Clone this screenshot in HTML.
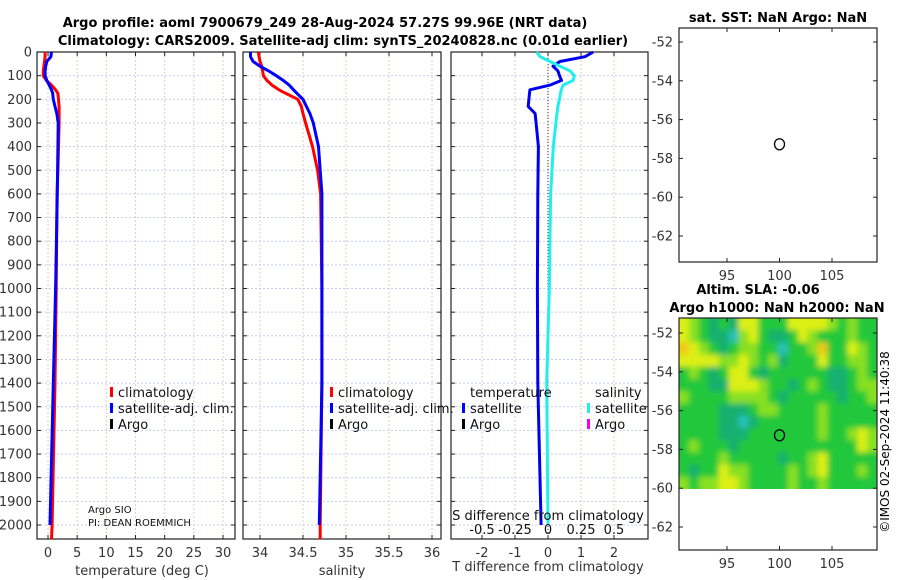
<!DOCTYPE html>
<html><head><meta charset="utf-8"><style>
body{margin:0;background:#fff}
svg{display:block;font-family:"DejaVu Sans","Liberation Sans",sans-serif}
</style></head><body>
<svg id="fig" width="900" height="580" viewBox="0 0 900 580">
<defs>
<clipPath id="slaClip"><rect x="679" y="318" width="198" height="171"/></clipPath>
<filter id="blur" x="-5%" y="-5%" width="110%" height="110%"><feGaussianBlur stdDeviation="3"/></filter>
</defs>
<g id="titles" font-weight="bold" font-size="13" text-anchor="middle" fill="#000">
<text x="325" y="27">Argo profile: aoml 7900679_249 28-Aug-2024 57.27S 99.96E (NRT data)</text>
<text x="343" y="45">Climatology: CARS2009. Satellite-adj clim: synTS_20240828.nc (0.01d earlier)</text>
<text x="778" y="22">sat. SST: NaN Argo: NaN</text>
<text x="758" y="294">Altim. SLA: -0.06</text>
<text x="777" y="312">Argo h1000: NaN h2000: NaN</text>
</g>
<g id="p1"></g>
<g id="p2"></g>
<g id="p3"></g>
<g id="m1"></g>
<g id="m2"></g>
<text transform="translate(889,442) rotate(-90)" text-anchor="middle" font-size="12">©IMOS 02-Sep-2024 11:40:38</text>
</svg>
<script>
const depths=[0,20,40,60,80,100,120,140,160,175,200,230,260,300,400,500,600,1000,1400,2000,2060];
const tempClim=[-0.5,-0.5,-0.6,-0.7,-0.8,-0.8,-0.3,0.6,1.3,1.7,1.8,1.9,1.9,1.9,1.8,1.7,1.55,1.4,1.2,0.7,0.6];
const tempSat=[0.6,0.5,-0.2,-0.4,-0.5,-0.5,-0.2,0.2,0.6,0.8,0.9,1.2,1.5,1.75,1.7,1.65,1.6,1.3,0.9,0.35,null];
const salClim=[33.98,33.99,34.0,34.02,34.03,34.04,34.08,34.14,34.22,34.3,34.44,34.48,34.5,34.53,34.61,34.67,34.705,34.72,34.72,34.7,34.7];
const salSat=[33.89,33.89,33.92,34.0,34.1,34.19,34.27,34.34,34.39,34.43,34.5,34.54,34.58,34.62,34.68,34.7,34.72,34.72,34.72,34.69,null];
const tDiffSat=[1.37,1.12,0.36,0.15,0.3,0.35,0.41,0.06,-0.55,-0.56,-0.58,-0.6,-0.39,-0.36,-0.29,-0.3,-0.31,-0.32,-0.31,-0.21,null];
const sDiffSat=[-0.086,-0.06,0.015,0.09,0.167,0.2,0.19,0.115,0.1,0.095,0.086,0.075,0.068,0.06,0.04,0.03,0.02,0.01,-0.01,0,null];
const depthTicks=[0,100,200,300,400,500,600,700,800,900,1000,1100,1200,1300,1400,1500,1600,1700,1800,1900,2000];
const tempTicks=[0,5,10,15,20,25,30];
const salTicks=[34,34.5,35,35.5,36];
const tdTicks=[-2,-1,0,1,2];
const sdTicks=[-0.5,-0.25,0,0.25,0.5];
const lonTicks=[95,100,105];
const latTicks=[-52,-54,-56,-58,-60,-62];
const argoLon=[100];
const argoLat=[-57.27];
const slaGrid=[
[4,3,2,1,2,1,4,4,2,2,2,4,4,4,4,3,2,3,2,2],
[4,3,2,1,1,0,3,4,2,1,1,2,4,3,2,2,2,3,2,2],
[5,4,3,2,1,2,3,3,2,2,0,2,2,3,5,2,2,4,3,2],
[4,4,4,4,3,3,4,3,2,3,1,2,2,2,4,2,2,3,3,2],
[2,3,2,1,2,4,4,2,1,2,2,2,2,2,2,1,1,2,3,2],
[2,2,2,1,1,4,4,4,3,2,2,1,2,3,2,1,1,2,3,3],
[3,2,2,2,2,3,3,3,3,2,1,2,2,2,2,2,1,2,2,3],
[2,2,2,2,1,1,1,2,3,3,2,2,2,2,3,2,2,2,2,2],
[2,2,2,2,1,1,0,1,2,2,2,2,2,2,3,2,2,2,2,2],
[2,2,2,2,1,1,1,2,2,2,2,2,2,2,3,2,2,3,4,3],
[2,3,2,2,2,1,2,2,2,2,2,2,2,2,2,2,2,2,4,3],
[2,2,2,2,3,2,2,2,2,2,1,2,2,3,4,2,2,2,2,2],
[2,1,2,2,4,3,3,2,2,2,2,3,2,3,4,2,2,2,3,2],
[3,2,3,3,4,4,3,2,2,2,2,3,2,2,3,2,2,2,2,2]];
const NS="http://www.w3.org/2000/svg";
function mk(parent,tag,attrs){const e=document.createElementNS(NS,tag);for(const k in attrs)e.setAttribute(k,attrs[k]);parent.appendChild(e);return e;}
const yD=d=>52+d*0.2365;
function lin(v0,p0,v1,p1){return v=>p0+(v-v0)*(p1-p0)/(v1-v0);}
function pathOf(xs,xf){let s="";xs.forEach((v,i)=>{if(v===null)return;s+=(s?"L":"M")+xf(v).toFixed(1)+","+yD(depths[i]).toFixed(1);});return s;}
function panel(g,x0,x1,xTicks,xf,xLabels,showY){
  const y0=52,y1=539;
  depthTicks.forEach(d=>{const l=mk(g,"line",{x1:x0,x2:x1,y1:yD(d),y2:yD(d),stroke:"#c4ccf0","stroke-width":1,"stroke-dasharray":"2,2"});});
  xTicks.forEach(v=>{const l=mk(g,"line",{x1:xf(v),x2:xf(v),y1:y0,y2:y1,stroke:"#eec8b8","stroke-width":1,"stroke-dasharray":"2,2"});});
  const r=mk(g,"rect",{x:x0,y:y0,width:x1-x0,height:y1-y0,fill:"none",stroke:"#222","stroke-width":1.2});
  
  depthTicks.forEach(d=>{mk(g,"line",{x1:x0,x2:x0+4,y1:yD(d),y2:yD(d),stroke:"#222"});mk(g,"line",{x1:x1-4,x2:x1,y1:yD(d),y2:yD(d),stroke:"#222"});
    if(showY){const t=mk(g,"text",{x:x0-5,y:yD(d)+4.5,"text-anchor":"end","font-size":13,fill:"#333"});t.textContent=d;}});
  xTicks.forEach((v,i)=>{mk(g,"line",{x1:xf(v),x2:xf(v),y1:y1-4,y2:y1,stroke:"#222"});mk(g,"line",{x1:xf(v),x2:xf(v),y1:y0,y2:y0+4,stroke:"#222"});
    if(xLabels){const t=mk(g,"text",{x:xf(v),y:557,"text-anchor":"middle","font-size":13,fill:"#333"});t.textContent=xLabels[i];}});
}
function line(g,d,color,name,w){const p=mk(g,"path",{d:d,fill:"none",stroke:color,"stroke-width":w||3,"stroke-linejoin":"round"});}
function txt(g,x,y,s,name,opts){const t=mk(g,"text",Object.assign({x:x,y:y,"font-size":13,fill:"#111"},opts||{}));t.textContent=s;return t;}
function legItem(g,x,y,color,label){const r=mk(g,"rect",{x:x,y:y-10,width:3,height:10,fill:color});txt(g,x+8,y,label,'legend-entry');}
// panel 1
const p1=document.getElementById("p1");const xT=lin(0,48,30,223);
panel(p1,37,235,tempTicks,xT,tempTicks,true);
line(p1,pathOf(tempClim,xT),"#ff0000","temp-climatology-line");
line(p1,pathOf(tempSat,xT),"#0000ff","temp-satellite-line");
txt(p1,142,575,"temperature (deg C)","x-axis-title",{"text-anchor":"middle",fill:"#333"});
legItem(p1,110,397,"#ff0000","climatology");legItem(p1,110,413,"#0000ff","satellite-adj. clim.");legItem(p1,110,429,"#000","Argo");
txt(p1,88,513,"Argo SIO","argo-source-note",{"font-size":10});
txt(p1,88,526,"PI: DEAN ROEMMICH","pi-note",{"font-size":10});
// panel 2
const p2=document.getElementById("p2");const xS=lin(34,260,36,432);
panel(p2,243,441,salTicks,xS,salTicks,false);
line(p2,pathOf(salClim,xS),"#ff0000","sal-climatology-line");
line(p2,pathOf(salSat,xS),"#0000ff","sal-satellite-line");
txt(p2,342,575,"salinity","x-axis-title",{"text-anchor":"middle",fill:"#333"});
legItem(p2,330,397,"#ff0000","climatology");legItem(p2,330,413,"#0000ff","satellite-adj. clim.");legItem(p2,330,429,"#000","Argo");
// panel 3
const p3=document.getElementById("p3");const xTD=lin(0,548,2,614);const xSD=lin(0,548,0.5,614);
panel(p3,451,648,tdTicks,xTD,tdTicks,false);
const z=mk(p3,"line",{x1:xTD(0),x2:xTD(0),y1:52,y2:539,stroke:"#333","stroke-dasharray":"1,2"});
line(p3,pathOf(tDiffSat,xTD),"#0000ee","t-difference-line");
line(p3,pathOf(sDiffSat,xSD),"#22eeee","s-difference-line");
txt(p3,470,397,"temperature","legend-title");txt(p3,595,397,"salinity","legend-title");
legItem(p3,462,413,"#0000ff","satellite");legItem(p3,462,429,"#000","Argo");
legItem(p3,587,413,"#22eeee","satellite");legItem(p3,587,429,"#ee00ee","Argo");
txt(p3,548,520,"S difference from climatology","s-axis-title",{"text-anchor":"middle"});
sdTicks.forEach(v=>{txt(p3,xSD(v),534,String(v),"s-tick-label",{"text-anchor":"middle"});});
txt(p3,548,571,"T difference from climatology","x-axis-title",{"text-anchor":"middle",fill:"#333"});
// maps
const xLon=lin(95,727,105,832);
function mapAxes(g,y0,y1,yLat,xLabY){
  const r=mk(g,"rect",{x:679,y:y0,width:198,height:y1-y0,fill:"none",stroke:"#222","stroke-width":1.2});
  latTicks.forEach(v=>{mk(g,"line",{x1:679,x2:683,y1:yLat(v),y2:yLat(v),stroke:"#222"});mk(g,"line",{x1:873,x2:877,y1:yLat(v),y2:yLat(v),stroke:"#222"});txt(g,673,yLat(v)+4.5,String(v),"lat-tick-label",{"text-anchor":"end",fill:"#333"});});
  lonTicks.forEach(v=>{mk(g,"line",{x1:xLon(v),x2:xLon(v),y1:y1-4,y2:y1,stroke:"#222"});mk(g,"line",{x1:xLon(v),x2:xLon(v),y1:y0,y2:y0+4,stroke:"#222"});txt(g,xLon(v),xLabY,String(v),"lon-tick-label",{"text-anchor":"middle",fill:"#333"});});
}
function marker(g,yLat){argoLon.forEach((lo,i)=>{const c=mk(g,"ellipse",{cx:xLon(lo),cy:yLat(argoLat[i]),rx:5,ry:5.5,fill:"none",stroke:"#000","stroke-width":1.3});});}
const m1=document.getElementById("m1");const yL1=lin(-52,42,-62,236);
mapAxes(m1,28,262,yL1,280);marker(m1,yL1);
const m2=document.getElementById("m2");const yL2=lin(-52,333,-62,527);
const cols=["#28c0b8","#18b070","#22c83a","#88e020","#dcf018","#f0c818"];
const clipG=mk(m2,"g",{"clip-path":"url(#slaClip)"});


mk(clipG,"rect",{x:679,y:318,width:198,height:171,fill:"#22c83a"});
const blurG=mk(clipG,"g",{filter:"url(#blur)"});
const nr=slaGrid.length,nc=slaGrid[0].length,cw=198/nc,ch=(489-318)/nr;
slaGrid.forEach((row,i)=>row.forEach((v,j)=>{const c=mk(blurG,"rect",{x:679+j*cw-(j===0?6:0),y:318+i*ch-(i===0?6:0),width:cw+0.5+(j===0||j===nc-1?6:0),height:ch+0.5+(i===0||i===nr-1?6:0),fill:cols[v]});}));
mapAxes(m2,318,550,yL2,568);marker(m2,yL2);
</script>
</body></html>
